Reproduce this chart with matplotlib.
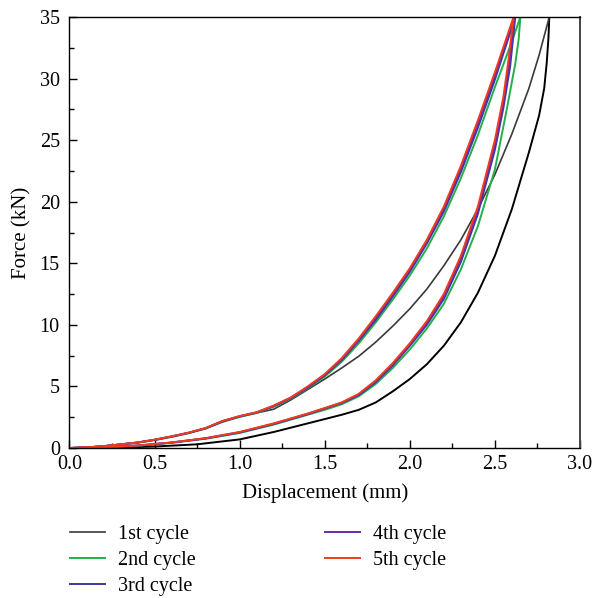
import matplotlib
matplotlib.use("Agg")
import matplotlib.pyplot as plt
from matplotlib.ticker import MultipleLocator, FormatStrFormatter

plt.rcParams['font.family'] = ['Liberation Serif', 'DejaVu Serif']

# ---- data (displacement in mm, force in kN) ----
# 1st cycle
c1_load_x = [0, 0.25, 0.5, 0.75, 1.0, 1.2, 1.4, 1.6, 1.7, 1.8, 1.9, 2.0, 2.1, 2.2, 2.3, 2.4, 2.5, 2.6, 2.7, 2.76, 2.79, 2.805, 2.815, 2.82]
c1_load_y = [0, 0.02, 0.12, 0.3, 0.7, 1.3, 2.0, 2.7, 3.1, 3.7, 4.6, 5.6, 6.8, 8.3, 10.2, 12.6, 15.6, 19.4, 24.0, 27.0, 29.2, 31.3, 33.3, 35]
c1_unload_x = [0, 0.1, 0.2, 0.3, 0.4, 0.5, 0.6, 0.7, 0.8, 0.9, 1.0, 1.1, 1.2, 1.3, 1.4, 1.5, 1.6, 1.7, 1.8, 1.9, 2.0, 2.1, 2.2, 2.3, 2.4, 2.5, 2.6, 2.7, 2.76, 2.82]
c1_unload_y = [0, 0.05, 0.15, 0.3, 0.45, 0.66, 0.92, 1.22, 1.62, 2.2, 2.55, 2.85, 3.15, 3.9, 4.75, 5.6, 6.5, 7.45, 8.6, 9.9, 11.3, 12.9, 14.8, 16.9, 19.4, 22.2, 25.5, 29.2, 31.9, 35]

# 2nd cycle
c2_load_x = [0, 0.2, 0.4, 0.6, 0.8, 1.0, 1.2, 1.4, 1.5, 1.6, 1.7, 1.8, 1.9, 2.0, 2.1, 2.2, 2.3, 2.4, 2.5, 2.57, 2.62, 2.64, 2.65]
c2_load_y = [0, 0.06, 0.18, 0.42, 0.75, 1.22, 1.9, 2.7, 3.1, 3.55, 4.2, 5.2, 6.5, 8.0, 9.7, 11.7, 14.5, 18.0, 22.6, 27.5, 31.2, 33.2, 35]
c2_unload_x = [0, 0.1, 0.2, 0.3, 0.4, 0.5, 0.6, 0.7, 0.8, 0.9, 1.0, 1.1, 1.2, 1.3, 1.4, 1.5, 1.6, 1.7, 1.8, 1.9, 2.0, 2.1, 2.2, 2.3, 2.4, 2.5, 2.6, 2.65]
c2_unload_y = [0, 0.05, 0.14, 0.28, 0.43, 0.64, 0.9, 1.2, 1.58, 2.12, 2.52, 2.85, 3.35, 4.0, 4.85, 5.8, 7.0, 8.5, 10.2, 12.05, 14.0, 16.2, 18.8, 21.9, 25.4, 29.3, 33.0, 35]

# 3rd cycle
c3_load_x = [0, 0.2, 0.4, 0.6, 0.8, 1.0, 1.2, 1.4, 1.5, 1.6, 1.7, 1.8, 1.9, 2.0, 2.1, 2.2, 2.3, 2.4, 2.5, 2.55, 2.59, 2.62]
c3_load_y = [0, 0.07, 0.19, 0.44, 0.78, 1.27, 1.95, 2.75, 3.2, 3.65, 4.3, 5.35, 6.7, 8.3, 10.0, 12.1, 15.1, 19.0, 24.2, 27.6, 31.0, 35]
c3_unload_x = [0, 0.1, 0.2, 0.3, 0.4, 0.5, 0.6, 0.7, 0.8, 0.9, 1.0, 1.1, 1.2, 1.3, 1.4, 1.5, 1.6, 1.7, 1.8, 1.9, 2.0, 2.1, 2.2, 2.3, 2.4, 2.5, 2.62]
c3_unload_y = [0, 0.05, 0.15, 0.29, 0.44, 0.66, 0.93, 1.23, 1.6, 2.15, 2.57, 2.88, 3.4, 4.05, 4.9, 5.9, 7.15, 8.7, 10.4, 12.3, 14.3, 16.6, 19.2, 22.4, 26.0, 29.9, 35]

# 4th cycle
c4_load_x = [0, 0.2, 0.4, 0.6, 0.8, 1.0, 1.2, 1.4, 1.5, 1.6, 1.7, 1.8, 1.9, 2.0, 2.1, 2.2, 2.3, 2.4, 2.5, 2.55, 2.585, 2.615]
c4_load_y = [0, 0.07, 0.2, 0.45, 0.79, 1.28, 1.97, 2.78, 3.22, 3.68, 4.35, 5.42, 6.8, 8.4, 10.15, 12.3, 15.35, 19.3, 24.6, 28.0, 31.2, 35]
c4_unload_x = [0, 0.1, 0.2, 0.3, 0.4, 0.5, 0.6, 0.7, 0.8, 0.9, 1.0, 1.1, 1.2, 1.3, 1.4, 1.5, 1.6, 1.7, 1.8, 1.9, 2.0, 2.1, 2.2, 2.3, 2.4, 2.5, 2.615]
c4_unload_y = [0, 0.05, 0.15, 0.3, 0.45, 0.67, 0.94, 1.24, 1.6, 2.18, 2.58, 2.9, 3.42, 4.08, 4.95, 5.95, 7.2, 8.8, 10.55, 12.45, 14.45, 16.75, 19.4, 22.65, 26.3, 30.2, 35]

# 5th cycle
c5_load_x = [0, 0.2, 0.4, 0.6, 0.8, 1.0, 1.2, 1.4, 1.5, 1.6, 1.7, 1.8, 1.9, 2.0, 2.1, 2.2, 2.3, 2.4, 2.5, 2.55, 2.58, 2.61]
c5_load_y = [0, 0.07, 0.2, 0.45, 0.8, 1.3, 2.0, 2.8, 3.25, 3.7, 4.4, 5.5, 6.9, 8.5, 10.3, 12.5, 15.6, 19.6, 25.0, 28.5, 31.5, 35]
c5_unload_x = [0, 0.1, 0.2, 0.3, 0.4, 0.5, 0.6, 0.7, 0.8, 0.9, 1.0, 1.1, 1.2, 1.3, 1.4, 1.5, 1.6, 1.7, 1.8, 1.9, 2.0, 2.1, 2.2, 2.3, 2.4, 2.5, 2.61]
c5_unload_y = [0, 0.05, 0.15, 0.3, 0.45, 0.68, 0.95, 1.25, 1.62, 2.2, 2.6, 2.9, 3.45, 4.1, 5.0, 6.0, 7.3, 8.9, 10.7, 12.6, 14.6, 16.9, 19.6, 22.9, 26.6, 30.5, 35]

labels = ['1st cycle', '2nd cycle', '3rd cycle', '4th cycle', '5th cycle']
colors = ['#3a3a3a', '#22b04a', '#3b3b9c', '#6a2bb0', '#f23a1c']

fig = plt.figure(figsize=(5.97, 5.98), dpi=100)
ax = fig.add_axes([0.1164, 0.2508, 0.855, 0.7208])

# 1st cycle: loading drawn darker than unloading, like the original
ax.plot(c1_load_x, c1_load_y, color='#000000', lw=1.4)
ax.plot(c1_unload_x, c1_unload_y, color=colors[0], lw=1.2, label=labels[0])

cycles = [
    (c2_load_x, c2_load_y, c2_unload_x, c2_unload_y),
    (c3_load_x, c3_load_y, c3_unload_x, c3_unload_y),
    (c4_load_x, c4_load_y, c4_unload_x, c4_unload_y),
    (c5_load_x, c5_load_y, c5_unload_x, c5_unload_y),
]
for (lx, ly, ux, uy), col, lab in zip(cycles, colors[1:], labels[1:]):
    ax.plot(lx, ly, color=col, lw=1.4, label=lab)
    ax.plot(ux, uy, color=col, lw=1.4)

ax.set_xlim(0, 3.0)
ax.set_ylim(0, 35)
ax.xaxis.set_major_locator(MultipleLocator(0.5))
ax.xaxis.set_minor_locator(MultipleLocator(0.25))
ax.yaxis.set_major_locator(MultipleLocator(5))
ax.yaxis.set_minor_locator(MultipleLocator(2.5))
ax.xaxis.set_major_formatter(FormatStrFormatter('%.1f'))
ax.tick_params(which='both', direction='in', top=False, right=False, labelsize=14.5, width=1)
ax.tick_params(which='major', length=6)
ax.tick_params(which='minor', length=3.5)
ax.tick_params(axis='x', which='major', pad=5)
ax.tick_params(axis='y', which='major', pad=7)
for s in ax.spines.values():
    s.set_linewidth(1.0)
ax.spines['right'].set_color('#444444')
ax.spines['right'].set_linewidth(1.4)

ax.set_xlabel('Displacement (mm)', fontsize=15, labelpad=7)
ax.set_ylabel('Force (kN)', fontsize=15, labelpad=6)

fig.legend(loc='upper left', bbox_to_anchor=(0.117, 0.122), ncol=2, frameon=False,
           fontsize=14.5, handlelength=1.75, handletextpad=0.65, columnspacing=6.4,
           labelspacing=0.35, borderpad=0, borderaxespad=0, bbox_transform=fig.transFigure)

fig.savefig('out.png', dpi=100)
